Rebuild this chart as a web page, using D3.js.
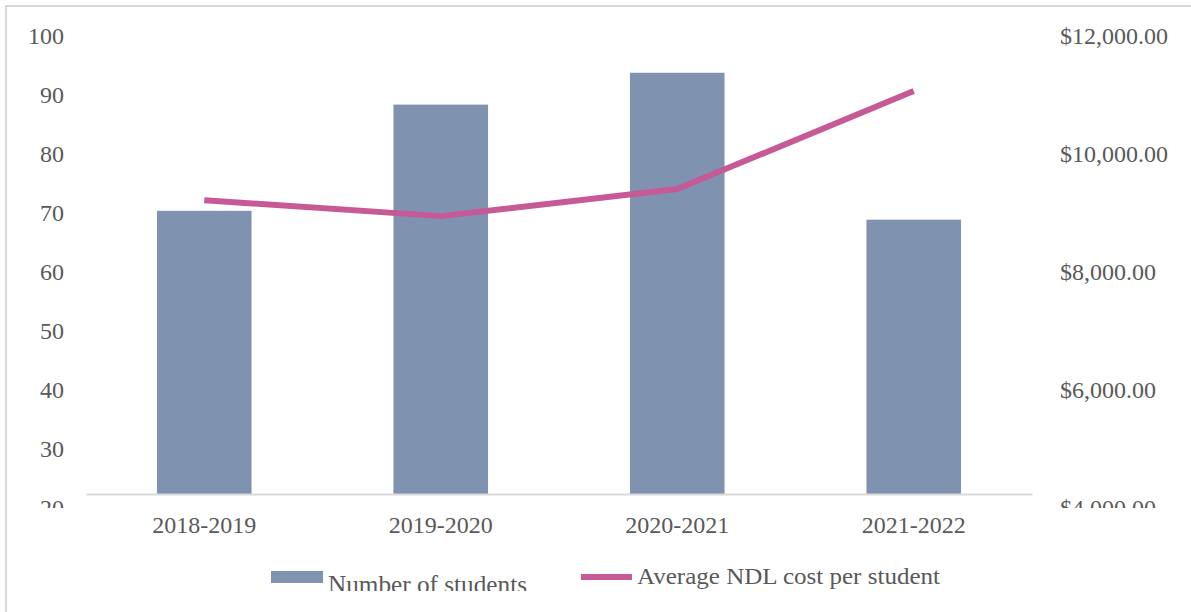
<!DOCTYPE html>
<html>
<head>
<meta charset="utf-8">
<script src="https://cdn.jsdelivr.net/npm/d3@7"></script>
<style>
  html, body { margin: 0; padding: 0; background: #fff; }
  svg { display: block; }
  text { font-family: "Liberation Serif", "Times New Roman", serif; fill: #595959; }
</style>
</head>
<body>
<svg id="chart" width="1191" height="612"></svg>
<script>
const categories = ["2018-2019", "2019-2020", "2020-2021", "2021-2022"];
const students = [70.2, 88.2, 93.6, 68.7];
const avgCost = [9200, 8930, 9390, 11050];
const leftTicks = [20, 30, 40, 50, 60, 70, 80, 90, 100];
const rightTicks = [4000, 6000, 8000, 10000, 12000];
const seriesNames = ["Number of students", "Average NDL cost per student"];

const W = 1191, H = 612;
const svg = d3.select("#chart");
const barColor = "#7F93B0", lineColor = "#C55A96";

// frame
svg.append("rect").attr("x", 6).attr("y", 6).attr("width", W + 20).attr("height", H + 20)
  .attr("fill", "none").attr("stroke", "#d9d9d9").attr("stroke-width", 2);

const x = d3.scaleBand().domain(categories).range([86, 1032]).paddingInner(0.6).paddingOuter(0.3);
const yL = d3.scaleLinear().domain([20, 100]).range([507, 35]);
const yR = d3.scaleLinear().domain([4000, 12000]).range([507, 35]);
const baseY = 494;

// clip for axis labels
svg.append("clipPath").attr("id", "axclip").append("rect")
  .attr("x", 0).attr("y", 0).attr("width", W).attr("height", 508);
const clipG = svg.append("g").attr("clip-path", "url(#axclip)");

// left axis
const gl = clipG.append("g")
  .attr("transform", "translate(64,0)")
  .call(d3.axisLeft(yL).tickValues(leftTicks).tickSize(0).tickPadding(0).tickFormat(d3.format("d")));
gl.select(".domain").remove();
gl.selectAll("text").attr("font-size", 24).attr("dy", "0.35em").style("fill", "#595959")
  .style("font-family", "Liberation Serif");

// right axis
const gr = clipG.append("g")
  .attr("transform", "translate(1060,0)")
  .call(d3.axisRight(yR).tickValues(rightTicks).tickSize(0).tickPadding(0)
    .tickFormat(d => "$" + d3.format(",.2f")(d)));
gr.select(".domain").remove();
gr.selectAll("text").attr("font-size", 24).attr("dy", "0.35em").style("fill", "#595959")
  .style("font-family", "Liberation Serif");

// bars
svg.append("g").selectAll("rect").data(categories).join("rect")
  .attr("x", d => x(d))
  .attr("width", x.bandwidth())
  .attr("y", (d, i) => yL(students[i]))
  .attr("height", (d, i) => baseY - yL(students[i]))
  .attr("fill", barColor);

// baseline / x axis
const gx = svg.append("g").attr("transform", `translate(0,${baseY})`)
  .call(d3.axisBottom(x).tickSize(0).tickPadding(22));
gx.select(".domain").attr("stroke", "#d9d9d9").attr("stroke-width", 2);
gx.selectAll("text").attr("font-size", 24).style("fill", "#595959")
  .style("font-family", "Liberation Serif");

// line
const line = d3.line()
  .x((d, i) => x(categories[i]) + x.bandwidth() / 2)
  .y(d => yR(d));
svg.append("path").datum(avgCost).attr("d", line)
  .attr("fill", "none").attr("stroke", lineColor).attr("stroke-width", 6)
  .attr("stroke-linejoin", "round");

// legend
svg.append("clipPath").attr("id", "legclip").append("rect")
  .attr("x", 0).attr("y", 0).attr("width", W).attr("height", 591);
const lg = svg.append("g");
lg.append("rect").attr("x", 271).attr("y", 571).attr("width", 52).attr("height", 12).attr("fill", barColor);
lg.append("g").attr("clip-path", "url(#legclip)").append("text")
  .attr("x", 328).attr("y", 593).attr("font-size", 25)
  .attr("textLength", 199).attr("lengthAdjust", "spacingAndGlyphs")
  .text(seriesNames[0]);
lg.append("line").attr("x1", 581).attr("x2", 632).attr("y1", 577).attr("y2", 577)
  .attr("stroke", lineColor).attr("stroke-width", 6);
lg.append("text")
  .attr("x", 637).attr("y", 584).attr("font-size", 24)
  .attr("textLength", 303).attr("lengthAdjust", "spacingAndGlyphs")
  .text(seriesNames[1]);
</script>
</body>
</html>
